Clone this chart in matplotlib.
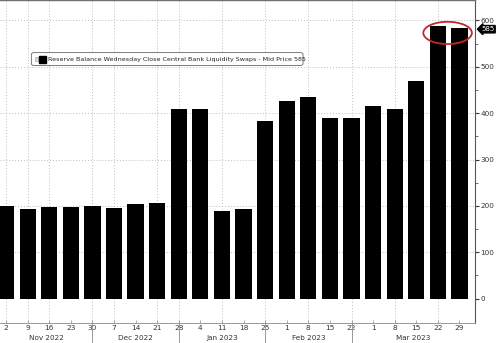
import matplotlib
matplotlib.use("Agg")
import matplotlib.pyplot as plt
from matplotlib.patches import Ellipse, Rectangle, FancyBboxPatch
import matplotlib.transforms as mtransforms

day_labels = ["2", "9", "16", "23", "30", "7", "14", "21", "28", "4", "11", "18",
              "25", "1", "8", "15", "22", "1", "8", "15", "22", "29"]
values = [200, 194, 198, 198, 200, 196, 205, 207, 410, 410, 188, 194,
          384, 427, 435, 390, 390, 416, 410, 470, 587, 584]
month_labels = ["Nov 2022", "Dec 2022", "Jan 2023", "Feb 2023", "Mar 2023"]
month_last_index = [4, 8, 12, 16]  # separators at last bar of each month
yticks = [0, 100, 200, 300, 400, 500, 600]
last_value_label = "585"
legend_text = "Reserve Balance Wednesday Close Central Bank Liquidity Swaps - Mid Price 585"
grid_idx = [0, 1, 2, 4, 5, 7, 8, 10, 12, 14, 16, 18, 20]

plt.rcParams['font.family'] = ['DejaVu Sans']

fig = plt.figure(figsize=(5.0, 3.43), dpi=100)
ax = fig.add_axes([0.0, 0.059, 0.95, 0.941])

x = list(range(len(values)))
ax.bar(x, values, width=0.75, color="black", zorder=3)

ax.set_xlim(-0.28, 21.72)
ax.set_ylim(-52, 644)

# grid
for gi in grid_idx:
    ax.axvline(gi, color="#bdbdbd", linestyle=(0, (1, 2)), linewidth=0.7, zorder=1)
for yv in yticks[1:]:
    ax.axhline(yv, color="#bdbdbd", linestyle=(0, (1, 2)), linewidth=0.7, zorder=1)

# spines
ax.spines["left"].set_visible(False)
ax.spines["top"].set_color("#707070")
ax.spines["top"].set_linewidth(1.0)
ax.spines["right"].set_color("#555555")
ax.spines["right"].set_linewidth(0.8)
ax.spines["bottom"].set_color("#888888")
ax.spines["bottom"].set_linewidth(0.6)

ax.yaxis.tick_right()
ax.set_yticks(yticks)
ax.set_yticklabels([str(v) for v in yticks], fontsize=5.2, color="#333333")
ax.set_yticks([50, 150, 250, 350, 450, 550], minor=True)
ax.tick_params(axis="y", which="major", direction="out", length=3, width=0.8,
               color="#333333", pad=1)
ax.tick_params(axis="y", which="minor", direction="out", length=2, width=0.6,
               color="#555555")

ax.set_xticks(x)
ax.set_xticklabels(day_labels, fontsize=5.3, color="#333333")
ax.tick_params(axis="x", direction="in", length=2, width=0.5, color="#888888", pad=1.5)

# month labels and separators
trans = mtransforms.blended_transform_factory(ax.transData, ax.transAxes)
bounds = [-0.28] + month_last_index + [21.72]
for i, lab in enumerate(month_labels):
    cx = (bounds[i] + bounds[i + 1]) / 2
    ax.text(cx, -0.046, lab, transform=trans, ha="center", va="center",
            fontsize=5.2, color="#333333")
for mi in month_last_index:
    ax.plot([mi, mi], [0, -0.07], transform=trans, color="#999999",
            linewidth=0.7, clip_on=False)

# legend box
legend_box = FancyBboxPatch((0.066, 0.797), 0.572, 0.040,
                            boxstyle="round,pad=0,rounding_size=0.006",
                            transform=ax.transAxes, facecolor="white",
                            edgecolor="#666666", linewidth=0.6, zorder=5)
ax.add_patch(legend_box)
ax.add_patch(Rectangle((0.073, 0.810), 0.007, 0.013, transform=ax.transAxes,
                       facecolor="#dddddd", edgecolor="#999999", linewidth=0.4,
                       zorder=6))
ax.add_patch(Rectangle((0.083, 0.806), 0.014, 0.021, transform=ax.transAxes,
                       facecolor="black", edgecolor="black", zorder=6))
ax.text(0.101, 0.817, legend_text, transform=ax.transAxes, fontsize=4.55,
        va="center", ha="left", color="#222222", zorder=6)

# last value label
ax.annotate(last_value_label, xy=(1.0, values[-1]),
            xycoords=mtransforms.blended_transform_factory(ax.transAxes, ax.transData),
            xytext=(4.5, -1), textcoords="offset points", fontsize=5.0, color="white",
            va="center", ha="left", annotation_clip=False,
            bbox=dict(boxstyle="larrow,pad=0.1", facecolor="black", edgecolor="black"))

# red ellipse highlight
ax.add_patch(Ellipse((20.45, 573), 2.25, 48, facecolor="none", edgecolor="#c1272d",
                     linewidth=1.3, zorder=6))

fig.savefig("out.png", dpi=100)
